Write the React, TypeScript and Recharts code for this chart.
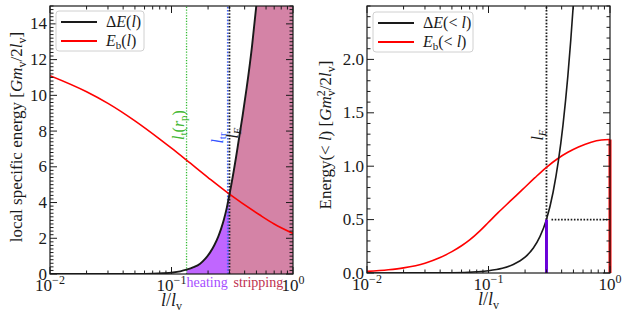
import React from 'react'
import {
  Area,
  ComposedChart,
  Line,
  ReferenceLine,
  XAxis,
  YAxis,
} from 'recharts'

const FONT = '"Liberation Serif", "DejaVu Serif", serif'
const INK = '#1a1a1a'

// shared log x axis, l / l_v
const xMajor = [0.01, 0.1, 1]
const xMajorExp = ['\u22122', '\u22121', '0']
const xMinor = [0.02, 0.03, 0.04, 0.05, 0.06, 0.07, 0.08, 0.09, 0.2, 0.3, 0.4, 0.5, 0.6, 0.7, 0.8, 0.9]

// left panel: local specific energy
const leftYMajor = [0, 2, 4, 6, 8, 10, 12, 14]
const deltaL = [0.01, 0.03, 0.05, 0.07, 0.085, 0.103, 0.118, 0.133, 0.152, 0.172, 0.19, 0.208, 0.225, 0.243, 0.257, 0.27, 0.285, 0.3, 0.325, 0.34, 0.355, 0.385, 0.416, 0.46, 0.5, 0.56, 0.62, 0.7, 0.8, 0.9, 1.0]
const deltaLocal = [0, 0.001, 0.005, 0.018, 0.04, 0.085, 0.15, 0.24, 0.38, 0.58, 0.86, 1.21, 1.61, 2.11, 2.57, 3.05, 3.7, 4.45, 5.75, 6.55, 7.36, 8.87, 10.44, 12.76, 15.08, 18.9, 23.2, 29.5, 38.5, 48.8, 60]
const bindL = [0.01, 0.02, 0.03, 0.05, 0.08, 0.1, 0.133, 0.2, 0.3, 0.534, 0.7, 1.0]
const bindLocal = [11.1, 10.2, 9.55, 8.57, 7.55, 7.04, 6.37, 5.4, 4.47, 3.3, 2.8, 2.27]
const lTidal = 0.133
const lTr = 0.29
const lE = 0.3

// right panel: cumulative energy
const rightYMajor = [0, 0.5, 1, 1.5, 2]
const rightYLabels = ['0.0', '0.5', '1.0', '1.5', '2.0']
const deltaCumL = [0.01, 0.05, 0.08, 0.1, 0.13, 0.16, 0.2, 0.234, 0.265, 0.3, 0.34, 0.376, 0.41, 0.45, 0.5, 0.55, 0.6, 0.7, 1.0]
const deltaCum = [0, 0.002, 0.011, 0.021, 0.044, 0.079, 0.148, 0.234, 0.34, 0.5, 0.756, 1.049, 1.383, 1.846, 2.53, 3.33, 4.25, 6.2, 15]
const bindCumL = [0.01, 0.015, 0.02, 0.03, 0.04, 0.05, 0.06, 0.07, 0.085, 0.1, 0.12, 0.15, 0.19, 0.24, 0.3, 0.37, 0.45, 0.55, 0.7, 0.85, 1.0]
const bindCum = [0.015, 0.03, 0.048, 0.092, 0.145, 0.2, 0.255, 0.31, 0.395, 0.475, 0.565, 0.67, 0.78, 0.89, 0.99, 1.07, 1.13, 1.18, 1.225, 1.245, 1.25]
const deltaCumAtLE = 0.5
const bindTotal = 1.25

const pts = (ls: number[], vs: number[]) => ls.map((l, i) => ({ l, v: vs[i] }))
const steps = (max: number, step: number) => {
  const out: number[] = []
  for (let k = 0; k * step <= max + 1e-9; k++) out.push(Math.round(k * step * 100) / 100)
  return out
}

const deltaPts = pts(deltaL, deltaLocal)
const heatPts = deltaPts.filter((p) => p.l >= lTidal && p.l <= lE)
const stripPts = deltaPts.filter((p) => p.l >= lE)

const makeXTick = (top: number) => (props: any) => {
  const { x, y, payload } = props
  const i = xMajor.indexOf(payload.value)
  const len = i >= 0 ? 7 : 3.5
  return (
    <g>
      <line x1={x} x2={x} y1={y} y2={y - len} stroke={INK} />
      <line x1={x} x2={x} y1={top} y2={top + len} stroke={INK} />
      {i >= 0 && (
        <text x={x} y={y + 17} textAnchor="middle" fontFamily={FONT} fontSize={17} fill={INK}>
          10<tspan dy={-7} fontSize={12}>{xMajorExp[i]}</tspan>
        </text>
      )}
    </g>
  )
}

const makeYTick = (right: number, majors: number[], labels: string[]) => (props: any) => {
  const { x, y, payload } = props
  const i = majors.findIndex((m) => Math.abs(m - payload.value) < 1e-6)
  const len = i >= 0 ? 7 : 3.5
  return (
    <g>
      <line x1={x} x2={x + len} y1={y} y2={y} stroke={INK} />
      <line x1={right} x2={right - len} y1={y} y2={y} stroke={INK} />
      {i >= 0 && (
        <text x={x - 3} y={y + 5.5} textAnchor="end" fontFamily={FONT} fontSize={17} fill={INK}>
          {labels[i]}
        </text>
      )}
    </g>
  )
}

const XTitle = (props: any) => {
  const { x, y, width } = props.viewBox
  return (
    <text x={x + width / 2} y={y + 32} textAnchor="middle" fontFamily={FONT} fontSize={18} fill={INK}>
      <tspan fontStyle="italic">l</tspan>/<tspan fontStyle="italic">l</tspan>
      <tspan dy={4} fontSize={12}>v</tspan>
    </text>
  )
}

// rotated annotation next to a vertical reference line
const RotLabel = (props: any) => {
  const { viewBox, dx, cy, color, children } = props
  const x = viewBox.x + dx
  return (
    <text x={x} y={cy} transform={`rotate(-90, ${x}, ${cy})`} textAnchor="middle" fontFamily={FONT} fontSize={16} fill={color}>
      {children}
    </text>
  )
}

const BandText = (props: any) => {
  const { viewBox, dx, color, text } = props
  return (
    <text x={viewBox.x + dx} y={viewBox.y + viewBox.height + 13} fontFamily={FONT} fontSize={14} fill={color}>
      {text}
    </text>
  )
}

const LegendBox = ({ x, y, w, labels }: { x: number; y: number; w: number; labels: React.ReactNode[] }) => (
  <g>
    <rect x={x} y={y} width={w} height={40} rx={3} fill="#fff" fillOpacity={0.85} stroke="#d0d0d0" />
    <line x1={x + 5} x2={x + 41} y1={y + 11} y2={y + 11} stroke={INK} strokeWidth={2} />
    <line x1={x + 5} x2={x + 41} y1={y + 30} y2={y + 30} stroke="#ff0000" strokeWidth={2} />
    <text x={x + 50} y={y + 16} fontFamily={FONT} fontSize={16} fill={INK}>{labels[0]}</text>
    <text x={x + 50} y={y + 35} fontFamily={FONT} fontSize={16} fill={INK}>{labels[1]}</text>
  </g>
)

const lSub = (sub: string, italic = false) => (
  <>
    <tspan fontStyle="italic">l</tspan>
    <tspan dy={3} fontSize={11} fontStyle={italic ? 'italic' : 'normal'}>{sub}</tspan>
  </>
)

const dotted = '1.6 1.6'

const LeftPanel = () => (
  <div style={{ position: 'absolute', left: 0, top: 0, width: 311, height: 312 }}>
    <ComposedChart width={311} height={312} margin={{ top: 6, right: 18, bottom: 0, left: 0 }}>
      <Area data={stripPts} dataKey="v" type="monotone" stroke="none" fill="#d483a6" fillOpacity={1} isAnimationActive={false} />
      <Area data={heatPts} dataKey="v" type="monotone" stroke="none" fill="#c066ff" fillOpacity={1} isAnimationActive={false} />
      <ReferenceLine x={lTidal} stroke="#33bb33" strokeWidth={1.3} strokeDasharray="1.2 1.6"
        label={
          <RotLabel dx={-3} cy={125} color="#44b833">
            {lSub('t')}<tspan dy={-3}>(</tspan><tspan fontStyle="italic">r</tspan>
            <tspan dy={3} fontSize={11}>p</tspan><tspan dy={-3}>)</tspan>
          </RotLabel>
        } />
      <ReferenceLine x={lTidal} stroke="none" label={<BandText dx={0} color="#a64dff" text="heating" />} />
      <ReferenceLine x={lTr} stroke="#4466ff" strokeWidth={1.5} strokeDasharray={dotted}
        label={<RotLabel dx={-5} cy={138} color="#3355ff">{lSub('tr')}</RotLabel>} />
      <ReferenceLine x={lE} stroke={INK} strokeWidth={1.8} strokeDasharray={dotted}
        label={<RotLabel dx={9} cy={133} color={INK}>{lSub('E', true)}</RotLabel>} />
      <ReferenceLine x={lE} stroke="none" label={<BandText dx={4} color="#c0304f" text="stripping" />} />
      <Line data={pts(bindL, bindLocal)} dataKey="v" type="monotone" stroke="#ff0000" strokeWidth={1.6} dot={false} isAnimationActive={false} />
      <Line data={deltaPts} dataKey="v" type="monotone" stroke={INK} strokeWidth={1.9} dot={false} isAnimationActive={false} />
      <XAxis dataKey="l" type="number" scale="log" domain={[0.01, 1]} allowDataOverflow ticks={[...xMajor, ...xMinor]}
        interval={0} height={38} tickSize={0} tickMargin={0} tickLine={false} axisLine={false} tick={makeXTick(6)}
        label={<XTitle />} />
      <YAxis type="number" domain={[0, 15]} allowDataOverflow ticks={steps(15, 0.2)} interval={0} width={50}
        tickSize={0} tickMargin={0} tickLine={false} axisLine={false}
        tick={makeYTick(293, leftYMajor, leftYMajor.map(String))} />
    </ComposedChart>
    <svg width={311} height={312} style={{ position: 'absolute', left: 0, top: 0, pointerEvents: 'none' }}>
      <rect x={50} y={6} width={243} height={268} fill="none" stroke={INK} strokeWidth={1.2} />
      <LegendBox x={56} y={11} w={88} labels={[
        <><tspan>Δ</tspan><tspan fontStyle="italic">E</tspan>(<tspan fontStyle="italic">l</tspan>)</>,
        <><tspan fontStyle="italic">E</tspan><tspan dy={3} fontSize={11}>b</tspan><tspan dy={-3}>(</tspan><tspan fontStyle="italic">l</tspan>)</>,
      ]} />
      <text x={22} y={137} transform="rotate(-90, 22, 137)" textAnchor="middle" fontFamily={FONT} fontSize={17} fill={INK}>
        local specific energy [<tspan fontStyle="italic">Gm</tspan><tspan dy={4} fontSize={12}>v</tspan>
        <tspan dy={-4}>/2</tspan><tspan fontStyle="italic">l</tspan><tspan dy={4} fontSize={12}>v</tspan><tspan dy={-4}>]</tspan>
      </text>
    </svg>
  </div>
)

const RightPanel = () => (
  <div style={{ position: 'absolute', left: 311, top: 0, width: 312, height: 312 }}>
    <ComposedChart width={312} height={312} margin={{ top: 6, right: 13, bottom: 0, left: 0 }}>
      <ReferenceLine segment={[{ x: lE, y: deltaCumAtLE }, { x: lE, y: 2.5 }]} stroke={INK} strokeWidth={1.8} strokeDasharray={dotted}
        label={<RotLabel dx={-3} cy={135} color={INK}>{lSub('E', true)}</RotLabel>} />
      <ReferenceLine segment={[{ x: 0.33, y: deltaCumAtLE }, { x: 1, y: deltaCumAtLE }]} stroke={INK} strokeWidth={1.8} strokeDasharray={dotted} />
      <Line data={pts(bindCumL, bindCum)} dataKey="v" type="monotone" stroke="#ff0000" strokeWidth={1.6} dot={false} isAnimationActive={false} />
      <Line data={pts(deltaCumL, deltaCum)} dataKey="v" type="monotone" stroke={INK} strokeWidth={1.6} dot={false} isAnimationActive={false} />
      <ReferenceLine segment={[{ x: lE, y: 0 }, { x: lE, y: deltaCumAtLE }]} stroke="#6a00d8" strokeWidth={3} />
      <ReferenceLine segment={[{ x: 1, y: 0 }, { x: 1, y: bindTotal }]} stroke="#ff0000" strokeWidth={3} />
      <XAxis dataKey="l" type="number" scale="log" domain={[0.01, 1]} allowDataOverflow ticks={[...xMajor, ...xMinor]}
        interval={0} height={39} tickSize={0} tickMargin={0} tickLine={false} axisLine={false} tick={makeXTick(6)}
        label={<XTitle />} />
      <YAxis type="number" domain={[0, 2.5]} allowDataOverflow ticks={steps(2.5, 0.1)} interval={0} width={56}
        tickSize={0} tickMargin={0} tickLine={false} axisLine={false}
        tick={makeYTick(299, rightYMajor, rightYLabels)} />
    </ComposedChart>
    <svg width={312} height={312} style={{ position: 'absolute', left: 0, top: 0, pointerEvents: 'none' }}>
      <rect x={56} y={6} width={243} height={267} fill="none" stroke={INK} strokeWidth={1.2} />
      <LegendBox x={62} y={12} w={100} labels={[
        <><tspan>Δ</tspan><tspan fontStyle="italic">E</tspan>(&lt; <tspan fontStyle="italic">l</tspan>)</>,
        <><tspan fontStyle="italic">E</tspan><tspan dy={3} fontSize={11}>b</tspan><tspan dy={-3}>(&lt; </tspan><tspan fontStyle="italic">l</tspan>)</>,
      ]} />
      <text x={20} y={135} transform="rotate(-90, 20, 135)" textAnchor="middle" fontFamily={FONT} fontSize={17} fill={INK}>
        Energy(&lt; <tspan fontStyle="italic">l</tspan>) [<tspan fontStyle="italic">Gm</tspan>
        <tspan dy={-6} fontSize={12}>2</tspan><tspan dx={-6} dy={10} fontSize={12}>v</tspan>
        <tspan dy={-4}>/2</tspan><tspan fontStyle="italic">l</tspan><tspan dy={4} fontSize={12}>v</tspan><tspan dy={-4}>]</tspan>
      </text>
    </svg>
  </div>
)

export default function App() {
  return (
    <div style={{ position: 'absolute', left: 0, top: 0, width: 623, height: 312, background: '#fff', overflow: 'hidden' }}>
      <LeftPanel />
      <RightPanel />
    </div>
  )
}
